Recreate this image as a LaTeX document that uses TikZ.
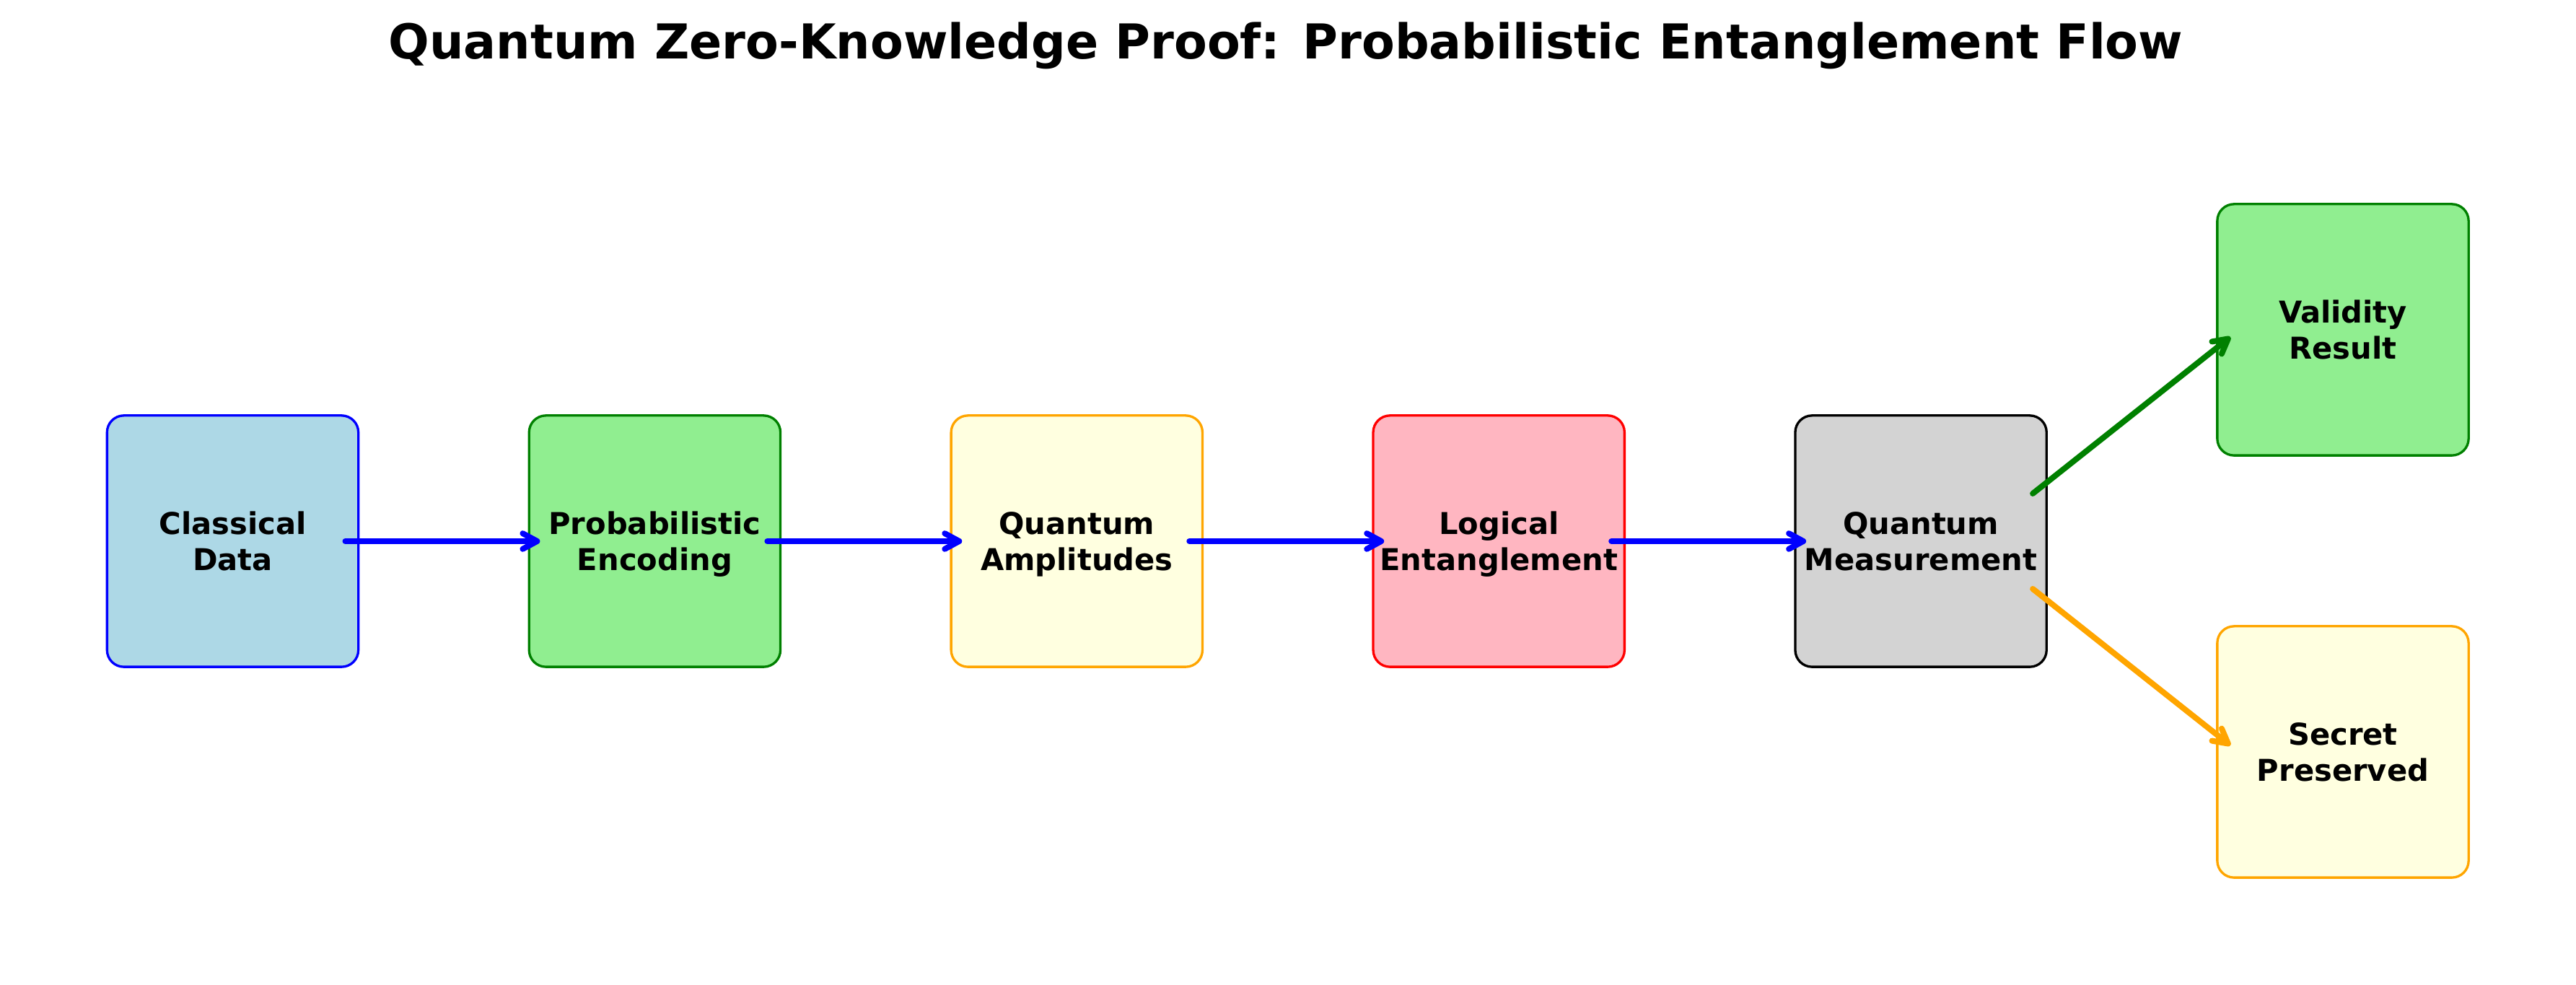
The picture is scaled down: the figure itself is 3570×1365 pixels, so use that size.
\documentclass[tikz,border=0pt]{standalone}
\usepackage{fontspec}
\setmainfont{DejaVu Sans}
\usetikzlibrary{arrows.meta,calc}
\definecolor{cBlue}{HTML}{0000FF}
\definecolor{cGreen}{HTML}{008000}
\definecolor{cOrange}{HTML}{FFA500}
\definecolor{cRed}{HTML}{FF0000}
\definecolor{fBlue}{HTML}{ADD8E6}
\definecolor{fGreen}{HTML}{90EE90}
\definecolor{fYellow}{HTML}{FFFFE0}
\definecolor{fPink}{HTML}{FFB6C1}
\definecolor{fGray}{HTML}{D3D3D3}
\tikzset{
  flowbox/.style={draw, line width=0.8pt, rounded corners=5.6pt, minimum width=83.6pt, minimum height=83.6pt,
    inner sep=0pt, align=center, font=\fontsize{10}{12}\selectfont\bfseries, text height=21.6pt, text depth=2.24pt},
  flowarrow/.style={line width=1.92pt, line cap=round, line join=round,
    -{Straight Barb[length=4.8pt,width=5.2pt,line cap=round,line join=round]}},
  titletext/.style={font=\fontsize{16}{19}\selectfont\bfseries, anchor=base, inner sep=0pt}
}
\begin{document}
\begin{tikzpicture}[x=0.24pt,y=-0.24pt]
\useasboundingbox (0,0) rectangle (3570,1365);
\node[titletext] (title) at (1782,82) {Quantum Zero-Knowledge Proof: Probabilistic Entanglement Flow};
\node[flowbox, draw=cBlue, fill=fBlue] (b1) at (322.5,750) {Classical\\Data};
\node[flowbox, draw=cGreen, fill=fGreen] (b2) at (907.4,750) {Probabilistic\\Encoding};
\node[flowbox, draw=cOrange, fill=fYellow] (b3) at (1492.3,750) {Quantum\\Amplitudes};
\node[flowbox, draw=cRed, fill=fPink] (b4) at (2077.2,750) {Logical\\Entanglement};
\node[flowbox, draw=black, fill=fGray] (b5) at (2662.1,750) {Quantum\\Measurement};
\node[flowbox, draw=cGreen, fill=fGreen] (b6) at (3247,457) {Validity\\Result};
\node[flowbox, draw=cOrange, fill=fYellow] (b7) at (3247,1042) {Secret\\Preserved};
\draw[flowarrow, cBlue] ($(b1.center)+(156,0)$) -- ($(b2.center)+(-159,0)$);
\draw[flowarrow, cBlue] ($(b2.center)+(156,0)$) -- ($(b3.center)+(-159,0)$);
\draw[flowarrow, cBlue] ($(b3.center)+(156,0)$) -- ($(b4.center)+(-159,0)$);
\draw[flowarrow, cBlue] ($(b4.center)+(156,0)$) -- ($(b5.center)+(-159,0)$);
\draw[flowarrow, cGreen] ($(b5.center)+(155,-66)$) -- ($(b6.center)+(-156,10)$);
\draw[flowarrow, cOrange] ($(b5.center)+(155,66)$) -- ($(b7.center)+(-156,-9)$);
\end{tikzpicture}
\end{document}
